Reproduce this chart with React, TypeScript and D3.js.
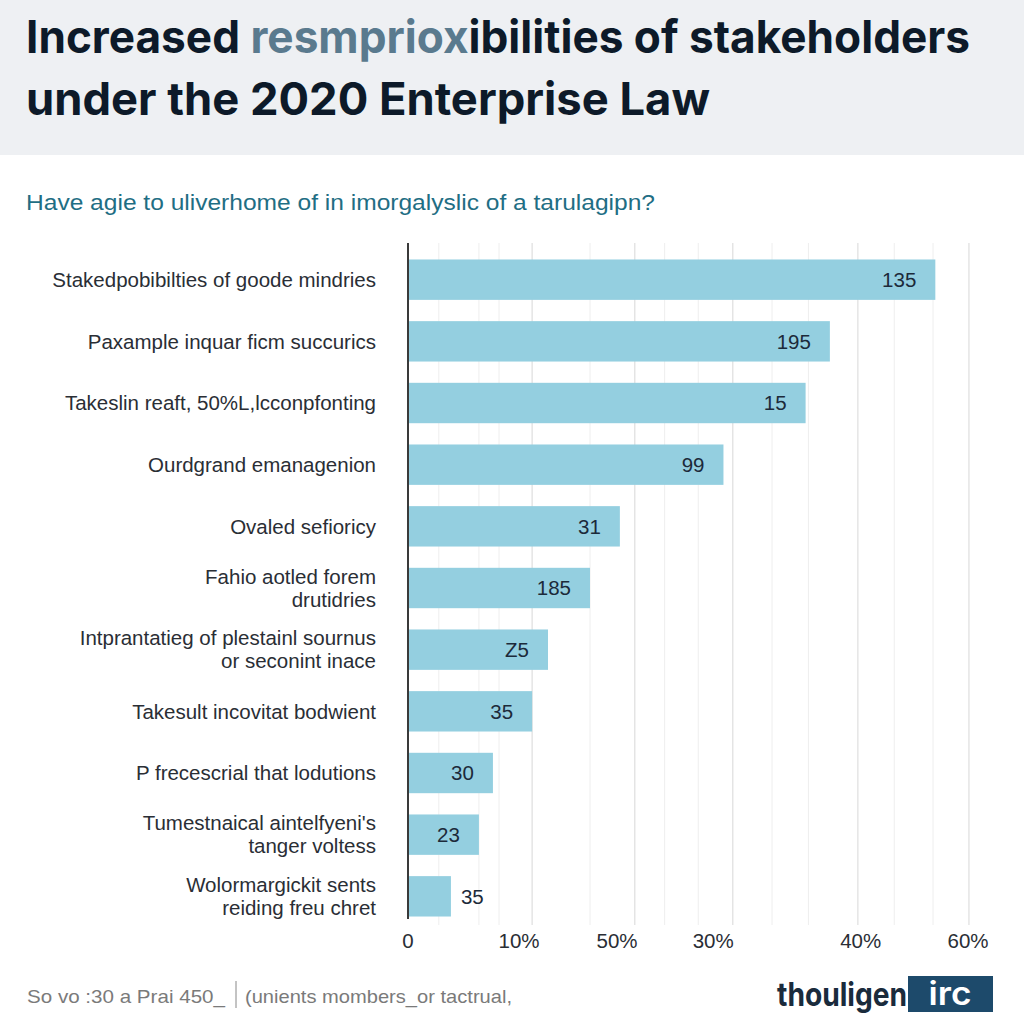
import React from "react";
import * as d3 from "d3";

const titleLines = ["under the 2020 Enterprise Law"];
const subtitle = "Have agie to uliverhome of in imorgalyslic of a tarulagipn?";

const categories: string[][] = [
  ["Stakedpobibilties of goode mindries"],
  ["Paxample inquar ficm succurics"],
  ["Takeslin reaft, 50%L,lcconpfonting"],
  ["Ourdgrand emanagenion"],
  ["Ovaled sefioricy"],
  ["Fahio aotled forem", "drutidries"],
  ["Intprantatieg of plestainl sournus", "or seconint inace"],
  ["Takesult incovitat bodwient"],
  ["P frecescrial that lodutions"],
  ["Tumestnaical aintelfyeni's", "tanger voltess"],
  ["Wolormargickit sents", "reiding freu chret"],
];
const barLengths = [56.5, 45.2, 42.6, 33.8, 22.7, 19.5, 15.0, 13.3, 9.1, 7.6, 4.6];
const valueLabels = ["135", "195", "15", "99", "31", "185", "Z5", "35", "30", "23", "35"];

const tickValues = [0, 11.9, 22.4, 32.7, 48.5, 60];
const tickLabels = ["0", "10%", "50%", "30%", "40%", "60%"];
const majorGrid = [13.3, 24.3, 34.8, 48.2, 60.1];
const minorGrid = [3.3, 7.6, 9.75, 19.5, 27.5, 31.1, 39, 42.9, 52.1, 56.25];

const footerLeft = "So vo :30 a Prai 450_";
const footerRight = "(unients mombers_or tactrual,";

export default function App() {
  const W = 1024, H = 1024;
  const x = d3.scaleLinear().domain([0, 60]).range([408, 968]);
  const y = d3
    .scaleBand<number>()
    .domain(d3.range(categories.length))
    .range([249, 927])
    .paddingInner(0.345)
    .paddingOuter(0.17);
  const bw = y.bandwidth();
  const sans = "'Liberation Sans', Arial, sans-serif";

  return (
    <svg width={W} height={H} viewBox={`0 0 ${W} ${H}`} style={{ position: "absolute", left: 0, top: 0 }}>
      <rect x={0} y={0} width={W} height={H} fill="#ffffff" />
      <rect x={0} y={0} width={W} height={155} fill="#eef0f3" />
      <text x={26} y={53} fontFamily="Inter, sans-serif" fontWeight={700} fontSize={45} fill="#0d1a29"
        textLength={944} lengthAdjust="spacingAndGlyphs">
        <tspan>Increased </tspan>
        <tspan fill="#5a7a8e">resmpriox</tspan>
        <tspan>ibilities of stakeholders</tspan>
      </text>
      {titleLines.map((t, i) => (
        <text key={i} x={26} y={115} fontFamily="Inter, sans-serif" fontWeight={700} fontSize={45} fill="#0d1a29"
          textLength={684} lengthAdjust="spacingAndGlyphs">{t}</text>
      ))}
      <text x={26} y={210} fontFamily={sans} fontSize={22} fill="#1f6e84" textLength={629} lengthAdjust="spacingAndGlyphs">
        {subtitle}
      </text>

      {/* grid */}
      {minorGrid.map((g, i) => (
        <line key={"m" + i} x1={x(g)} x2={x(g)} y1={243} y2={925} stroke="#eeeeee" strokeWidth={1} />
      ))}
      {majorGrid.map((g, i) => (
        <line key={"g" + i} x1={x(g)} x2={x(g)} y1={243} y2={925} stroke="#dedede" strokeWidth={1.2} />
      ))}

      {/* bars */}
      {barLengths.map((v, i) => (
        <rect key={"b" + i} x={x(0)} y={y(i)!} width={x(v) - x(0)} height={bw} fill="#94cfe0" />
      ))}
      {barLengths.map((v, i) => {
        const inside = x(v) - x(0) > 60;
        return (
          <text key={"v" + i} x={inside ? x(v) - 19 : x(v) + 10} y={y(i)! + bw / 2} dy="0.36em"
            textAnchor={inside ? "end" : "start"} fontFamily={sans} fontSize={20.5} fill="#1c2a3a">
            {valueLabels[i]}
          </text>
        );
      })}

      {/* axis line */}
      <line x1={x(0)} x2={x(0)} y1={243} y2={919} stroke="#3a3a3a" strokeWidth={2} />

      {/* category labels */}
      {categories.map((lines, i) => {
        const cy = y(i)! + bw / 2;
        const lh = 23;
        const start = cy - ((lines.length - 1) * lh) / 2;
        return (
          <text key={"c" + i} textAnchor="end" fontFamily={sans} fontSize={20.5} fill="#2a2e35">
            {lines.map((l, j) => (
              <tspan key={j} x={376} y={start + j * lh} dy="0.35em">{l}</tspan>
            ))}
          </text>
        );
      })}

      {/* ticks */}
      {tickValues.map((t, i) => (
        <text key={"t" + i} x={x(t)} y={941} dy="0.35em" textAnchor="middle" fontFamily={sans} fontSize={20.5} fill="#2a2e35">
          {tickLabels[i]}
        </text>
      ))}

      {/* footer */}
      <text x={27} y={1003} fontFamily={sans} fontSize={19} fill="#7a7a7a" textLength={198} lengthAdjust="spacingAndGlyphs">
        {footerLeft}
      </text>
      <line x1={236} x2={236} y1={981} y2={1008} stroke="#888" strokeWidth={1} />
      <text x={245} y={1003} fontFamily={sans} fontSize={19} fill="#7a7a7a" textLength={267} lengthAdjust="spacingAndGlyphs">
        {footerRight}
      </text>
      <g transform="translate(777,1006) scale(0.88,1)">
        <text x={0} y={0} fontFamily="Inter, sans-serif" fontWeight={700} fontSize={32} fill="#1a2b3c">thouligen</text>
      </g>
      <rect x={908} y={976} width={85} height={36} fill="#1d4a6b" />
      <g transform="translate(950,1005) scale(1.1,1)">
        <text x={0} y={0} textAnchor="middle" fontFamily="Inter, sans-serif" fontWeight={600} fontSize={32} fill="#ffffff">irc</text>
      </g>
    </svg>
  );
}
